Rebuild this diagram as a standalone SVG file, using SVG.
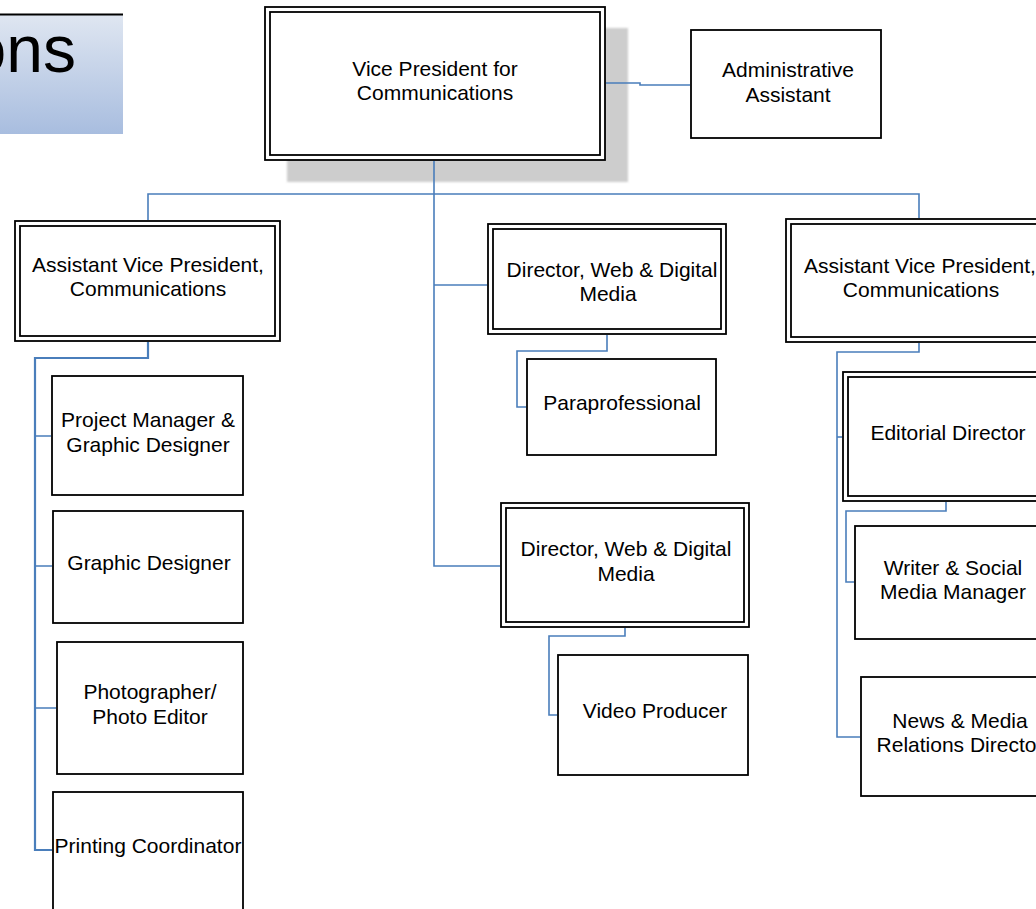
<svg xmlns="http://www.w3.org/2000/svg" width="1036" height="909" viewBox="0 0 1036 909">
<defs>
<linearGradient id="tg" x1="0" y1="0" x2="0" y2="1">
<stop offset="0" stop-color="#dfe6f1"/>
<stop offset="1" stop-color="#a8bddf"/>
</linearGradient>
<filter id="soft" x="-5%" y="-5%" width="110%" height="110%">
<feGaussianBlur stdDeviation="1"/>
</filter>
</defs>
<style>
text{font-family:"Liberation Sans",Arial,sans-serif;font-size:21px;fill:#000;text-anchor:middle}
.box{fill:#fff;stroke:#000;stroke-width:1.8}
.dbl{fill:none;stroke:#000;stroke-width:1.8}
.con{fill:none;stroke:#4a7ebb;stroke-width:1.6}
.thick{stroke-width:2.2}
</style>
<rect x="0" y="15" width="123" height="119" fill="url(#tg)"/>
<line x1="0" y1="14.5" x2="123" y2="14.5" stroke="#000" stroke-width="1.8"/>
<text x="76" y="72" style="font-size:66px;text-anchor:end">ons</text>

<g id="vp">
<rect x="287" y="28" width="341" height="154" fill="#cdcdcd" filter="url(#soft)"/>
<rect class="box" x="265" y="7" width="340" height="153"/>
<rect class="dbl" x="270" y="12" width="330" height="143"/>
<text x="435" y="76">Vice President for</text>
<text x="435" y="100">Communications</text>
</g>

<g id="admin">
<rect class="box" x="691" y="30" width="190" height="108"/>
<text x="788" y="77">Administrative</text>
<text x="788" y="102">Assistant</text>
</g>

<g id="avp-left">
<rect class="box" x="15" y="221" width="265" height="120"/>
<rect class="dbl" x="20" y="226" width="255" height="110"/>
<text x="148" y="272">Assistant Vice President,</text>
<text x="148" y="296">Communications</text>
</g>

<g id="pm">
<rect class="box" x="52" y="376" width="191" height="119"/>
<text x="148" y="427">Project Manager &amp;</text>
<text x="148" y="452">Graphic Designer</text>
</g>

<g id="gd">
<rect class="box" x="53" y="511" width="190" height="112"/>
<text x="149" y="570">Graphic Designer</text>
</g>

<g id="photo">
<rect class="box" x="57" y="642" width="186" height="132"/>
<text x="150" y="699">Photographer/</text>
<text x="150" y="724">Photo Editor</text>
</g>

<g id="printing">
<rect class="box" x="53" y="792" width="190" height="130"/>
<text x="148" y="853">Printing Coordinator</text>
</g>

<g id="dir1">
<rect class="box" x="488" y="224" width="238" height="110"/>
<rect class="dbl" x="493" y="229" width="228" height="100"/>
<text x="612" y="277">Director, Web &amp; Digital</text>
<text x="608" y="301">Media</text>
</g>

<g id="para">
<rect class="box" x="527" y="359" width="189" height="96"/>
<text x="622" y="410">Paraprofessional</text>
</g>

<g id="dir2">
<rect class="box" x="501" y="503" width="248" height="124"/>
<rect class="dbl" x="506" y="508" width="238" height="114"/>
<text x="626" y="556">Director, Web &amp; Digital</text>
<text x="626" y="581">Media</text>
</g>

<g id="video">
<rect class="box" x="558" y="655" width="190" height="120"/>
<text x="655" y="718">Video Producer</text>
</g>

<g id="avp-right">
<rect class="box" x="786" y="219" width="268" height="123"/>
<rect class="dbl" x="791" y="224" width="258" height="113"/>
<text x="920" y="273">Assistant Vice President,</text>
<text x="921" y="297">Communications</text>
</g>

<g id="editorial">
<rect class="box" x="843" y="372" width="210" height="129"/>
<rect class="dbl" x="848" y="377" width="200" height="119"/>
<text x="948" y="440">Editorial Director</text>
</g>

<g id="writer">
<rect class="box" x="855" y="526" width="196" height="113"/>
<text x="953" y="575">Writer &amp; Social</text>
<text x="953" y="599">Media Manager</text>
</g>

<g id="news">
<rect class="box" x="861" y="677" width="198" height="119"/>
<text x="960" y="728">News &amp; Media</text>
<text x="960" y="752">Relations Director</text>
</g>

<g id="connectors">
<path class="con" d="M606,83 H640 V85 H690"/>
<path class="con" d="M434,161 V566 H500"/>
<path class="con" d="M434,285 H487"/>
<path class="con" d="M148,220 V194 H919 V218"/>
<path class="con thick" d="M148,342 V358 H35 V850 H52"/>
<path class="con" d="M35,436 H51 M35,566 H52 M35,708 H56"/>
<path class="con" d="M607,335 V351 H517 V407 H526"/>
<path class="con" d="M625,628 V636 H549 V715 H557"/>
<path class="con" d="M919,343 V352 H837 V737 H860"/>
<path class="con" d="M837,437 H842"/>
<path class="con" d="M946,502 V511 H846 V582 H854"/>
</g>
</svg>
